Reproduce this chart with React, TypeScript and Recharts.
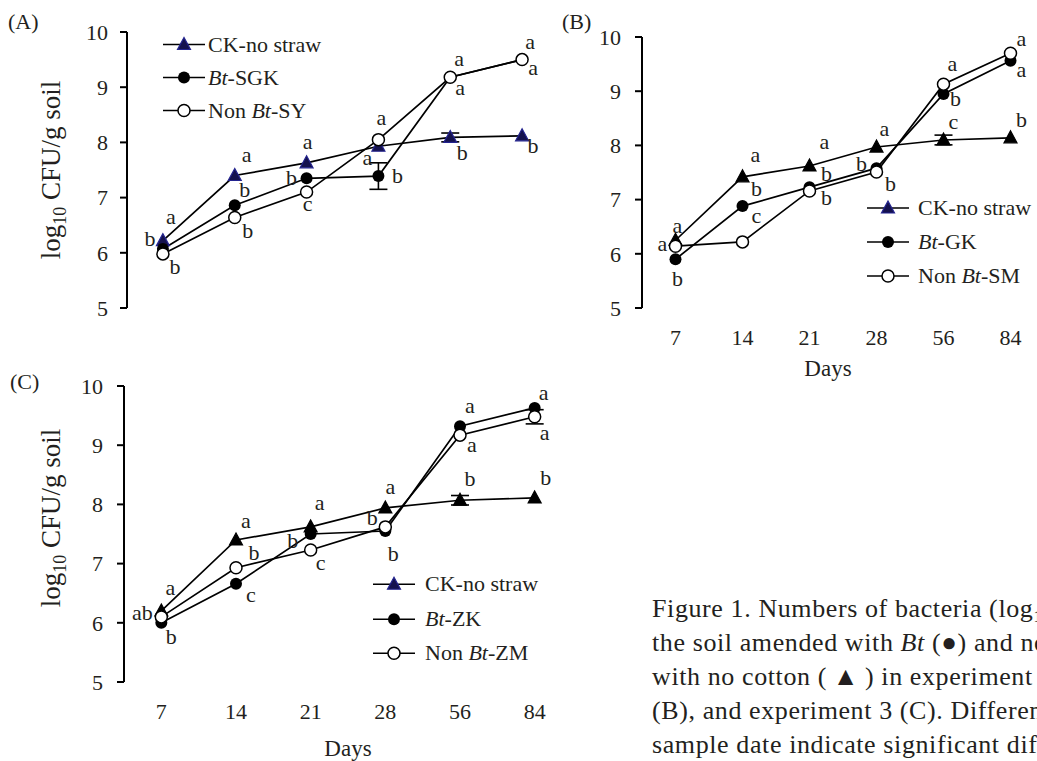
import React from 'react';
import { LineChart, Line, XAxis, YAxis, ErrorBar, LabelList, Legend } from 'recharts';

const FONT = "'Liberation Serif', 'Times New Roman', serif";
const INK = '#231f20';

// sampling days, shared by all three experiments
const days = ['7', '14', '21', '28', '56', '84'];
const yTicks = [5, 6, 7, 8, 9, 10];

// experiment 1 (A)
const aNames = ['CK-no straw', 'Bt-SGK', 'Non Bt-SY'];
const aCk = [6.22, 7.4, 7.63, 7.93, 8.09, 8.12];
const aBt = [6.07, 6.86, 7.35, 7.39, 9.18, 9.5];
const aNon = [5.98, 6.64, 7.1, 8.05, 9.18, 9.5];
const aCkErr = [null, null, null, null, 0.08, null];
const aBtErr = [null, null, null, 0.24, null, null];
const aNonErr = [null, null, null, null, null, null];
const aCkLetters = ['a', 'a', 'a', 'a', 'b', 'b'];
const aBtLetters = ['b', 'b', 'b', 'b', 'a', 'a'];
const aNonLetters = ['b', 'b', 'c', 'a', 'a', 'a'];

// experiment 2 (B)
const bNames = ['CK-no straw', 'Bt-GK', 'Non Bt-SM'];
const bCk = [6.25, 7.42, 7.62, 7.97, 8.1, 8.14];
const bBt = [5.9, 6.88, 7.23, 7.58, 8.95, 9.56];
const bNon = [6.14, 6.22, 7.16, 7.51, 9.13, 9.7];
const bCkErr = [null, null, null, null, 0.09, null];
const bBtErr = [null, null, null, null, null, null];
const bNonErr = [null, null, null, null, null, null];
const bCkLetters = ['a', 'a', 'a', 'a', 'c', 'b'];
const bBtLetters = ['b', 'b', 'b', 'b', 'b', 'a'];
const bNonLetters = ['a', 'c', 'b', 'b', 'a', 'a'];

// experiment 3 (C)
const cNames = ['CK-no straw', 'Bt-ZK', 'Non Bt-ZM'];
const cCk = [6.2, 7.4, 7.62, 7.94, 8.07, 8.11];
const cBt = [6.0, 6.66, 7.5, 7.55, 9.32, 9.63];
const cNon = [6.1, 6.93, 7.23, 7.62, 9.17, 9.48];
const cCkErr = [null, null, null, null, 0.08, null];
const cBtErr = [null, null, null, null, null, null];
const cNonErr = [null, null, null, null, null, 0.12];
const cCkLetters = ['a', 'a', 'a', 'a', 'b', 'b'];
const cBtLetters = ['b', 'c', 'b', 'b', 'a', 'a'];
const cNonLetters = ['ab', 'b', 'c', 'b', 'a', 'a'];

const makeRows = (ck: number[], bt: number[], non: number[], ckErr: any[], btErr: any[], nonErr: any[], ckL: string[], btL: string[], nonL: string[]) =>
  days.map((day, i) => ({
    pos: i + 0.5,
    day,
    ck: ck[i], bt: bt[i], non: non[i],
    ckErr: ckErr[i], btErr: btErr[i], nonErr: nonErr[i],
    ckL: ckL[i], btL: btL[i], nonL: nonL[i],
  }));

// where each significance letter sits relative to its point (dx, dy)
const aOffsets = {
  ck: [[8, -24], [12, -21], [1, -21], [-11, 11], [12, 15], [11, 10]],
  bt: [[-13, -10], [10, -16], [-15, -1], [19, -1], [10, 10], [11, 8]],
  non: [[12, 13], [13, 13], [1, 11], [3, -22], [9, -19], [8, -18]],
};
const bOffsets = {
  ck: [[2, -15], [13, -22], [15, -24], [8, -19], [10, -18], [11, -18]],
  bt: [[2, 19], [14, -18], [17, -14], [-15, -5], [12, 5], [11, 9]],
  non: [[-13, -3], [14, -26], [17, 7], [14, 12], [9, -21], [11, -15]],
};
const cOffsets = {
  ck: [[9, -23], [10, -19], [9, -24], [5, -21], [10, -22], [11, -20]],
  bt: [[10, 14], [15, 11], [-18, 6], [8, 22], [10, -21], [9, -15]],
  non: [[-19, -4], [18, -15], [10, 13], [-13, -9], [12, 9], [10, 16]],
};

const NAVY = { fill: '#15124e', stroke: '#24248f' };
const BLACK = { fill: '#000', stroke: '#000' };

const triPoints = (x: number, y: number) => `${x},${y - 7} ${x - 6.5},${y + 5} ${x + 6.5},${y + 5}`;

const marker = (key: string, cx: number, cy: number, tri: any) => {
  if (key === 'ck') return <polygon points={triPoints(cx, cy)} fill={tri.fill} stroke={tri.stroke} strokeWidth={1.2} />;
  if (key === 'bt') return <circle cx={cx} cy={cy} r={6} fill="#000" />;
  return <circle cx={cx} cy={cy} r={6} fill="#fff" stroke="#000" strokeWidth={1.5} />;
};

const dotFor = (key: string, tri: any) => (p: any) => (
  <g key={`${key}-${p.index}`}>{p.cx == null ? null : marker(key, p.cx, p.cy, tri)}</g>
);

const letterFor = (offs: number[][]) => (p: any) => {
  const vb = p.viewBox || {};
  const x = vb.x ?? p.x;
  const y = vb.y ?? p.y;
  const o = offs[p.index] || [0, 0];
  return (
    <text key={`l-${p.index}`} x={x + o[0]} y={y + o[1]} textAnchor="middle" dominantBaseline="central"
      fontFamily={FONT} fontSize={22} fill={INK}>{p.value}</text>
  );
};

const nameNode = (name: string) => {
  if (!name.includes('Bt')) return name;
  const [pre, post] = name.split('Bt');
  return <>{pre}<i>Bt</i>{post}</>;
};

const ORDER = ['ck', 'bt', 'non'];

const makeLegend = (lg: any) => (props: any) => {
  const items = [...(props.payload || [])].sort((a: any, b: any) => ORDER.indexOf(a.dataKey) - ORDER.indexOf(b.dataKey));
  return (
    <div style={{ fontFamily: FONT, fontSize: 22, color: INK }}>
      {items.map((it: any) => (
        <div key={it.dataKey} style={{ display: 'flex', alignItems: 'center', height: lg.rowH }}>
          <svg width={lg.iconW} height={lg.rowH} style={{ display: 'block', flex: 'none' }}>
            <line x1={0} x2={42} y1={lg.rowH / 2} y2={lg.rowH / 2} stroke="#000" strokeWidth={1.7} />
            {marker(it.dataKey, 21, lg.rowH / 2, lg.tri)}
          </svg>
          <span style={{ whiteSpace: 'nowrap', lineHeight: 1 }}>{nameNode(it.value)}</span>
        </div>
      ))}
    </div>
  );
};

const yTitle = (tx: number, dy: number) => (p: any) => {
  const vb = p.viewBox;
  const x = vb.x + tx;
  const y = vb.y + vb.height / 2 + dy;
  return (
    <text x={x} y={y} transform={`rotate(-90 ${x} ${y})`} textAnchor="middle" fontFamily={FONT} fontSize={27} fill={INK}>
      log<tspan fontSize={18} dy={6}>10</tspan><tspan dy={-6}> CFU/g soil</tspan>
    </text>
  );
};

const daysTitle = (dx: number, dy: number) => (p: any) => {
  const vb = p.viewBox;
  return (
    <text x={vb.x + vb.width / 2 + dx} y={vb.y + dy} textAnchor="middle" dominantBaseline="central"
      fontFamily={FONT} fontSize={23} fill={INK}>Days</text>
  );
};

const axisStyle = { stroke: '#000', strokeWidth: 2 };
const tickFont = { fill: INK, fontSize: 22, fontFamily: FONT };

function Panel({ cfg }: { cfg: any }) {
  const { left, top, width, height, rows, names, offs, legend, tri, showDays, daysDx, daysDy, title, yTickMargin } = cfg;
  const boundaryTicks = Array.from({ length: days.length + 1 }, (_, i) => i);
  const centerTicks = days.map((_, i) => i + 0.5);
  return (
    <div style={{ position: 'absolute', left, top }}>
      <LineChart width={width} height={height} data={rows} margin={{ top: 20, right: 12, left: 0, bottom: showDays ? 0 : 10 }}>
        <XAxis xAxisId="g" dataKey="pos" type="number" domain={[0, days.length]} ticks={boundaryTicks} interval={0}
          allowDataOverflow height={0} tickSize={7} tickFormatter={() => ''} axisLine={axisStyle} tickLine={axisStyle} />
        {showDays ? (
          <XAxis xAxisId="l" dataKey="pos" type="number" domain={[0, days.length]} ticks={centerTicks} interval={0}
            allowDataOverflow height={90} tickSize={0} tickMargin={21} axisLine={false} tickLine={false}
            tick={tickFont} tickFormatter={(v: number) => days[Math.floor(v)]}
            label={{ content: daysTitle(daysDx, daysDy) }} />
        ) : null}
        <YAxis type="number" domain={[5, 10]} ticks={yTicks} interval={0} allowDataOverflow width={110}
          tickSize={7} tickMargin={yTickMargin} axisLine={axisStyle} tickLine={axisStyle} tick={tickFont}
          label={title ? { content: yTitle(title.x, title.dy) } : undefined} />
        <Legend layout="vertical" align="center" verticalAlign="middle" content={makeLegend(legend)}
          wrapperStyle={{ left: legend.left, top: legend.top, width: 220 }} />
        <Line xAxisId="g" dataKey="ck" name={names[0]} stroke="#000" strokeWidth={1.7} dot={dotFor('ck', tri)}
          activeDot={false} isAnimationActive={false}>
          <ErrorBar dataKey="ckErr" width={9} stroke="#000" strokeWidth={1.6} direction="y" />
          <LabelList dataKey="ckL" content={letterFor(offs.ck)} />
        </Line>
        <Line xAxisId="g" dataKey="bt" name={names[1]} stroke="#000" strokeWidth={1.7} dot={dotFor('bt', tri)}
          activeDot={false} isAnimationActive={false}>
          <ErrorBar dataKey="btErr" width={9} stroke="#000" strokeWidth={1.6} direction="y" />
          <LabelList dataKey="btL" content={letterFor(offs.bt)} />
        </Line>
        <Line xAxisId="g" dataKey="non" name={names[2]} stroke="#000" strokeWidth={1.7} dot={dotFor('non', tri)}
          activeDot={false} isAnimationActive={false}>
          <ErrorBar dataKey="nonErr" width={9} stroke="#000" strokeWidth={1.6} direction="y" />
          <LabelList dataKey="nonL" content={letterFor(offs.non)} />
        </Line>
      </LineChart>
    </div>
  );
}

const panels = [
  {
    key: 'A', left: 17, top: 12, width: 553, height: 306,
    rows: makeRows(aCk, aBt, aNon, aCkErr, aBtErr, aNonErr, aCkLetters, aBtLetters, aNonLetters),
    names: aNames, offs: aOffsets, tri: NAVY,
    legend: { left: 146, top: 16, rowH: 33, iconW: 45, tri: NAVY },
    showDays: false, daysDx: 0, daysDy: 0, title: { x: 43, dy: 0 }, yTickMargin: 12,
  },
  {
    key: 'B', left: 532, top: 17, width: 524, height: 381,
    rows: makeRows(bCk, bBt, bNon, bCkErr, bBtErr, bNonErr, bCkLetters, bBtLetters, bNonLetters),
    names: bNames, offs: bOffsets, tri: BLACK,
    legend: { left: 335, top: 174, rowH: 34, iconW: 51, tri: NAVY },
    showDays: true, daysDx: -15, daysDy: 60, title: null, yTickMargin: 14,
  },
  {
    key: 'C', left: 14, top: 366, width: 570, height: 406,
    rows: makeRows(cCk, cBt, cNon, cCkErr, cBtErr, cNonErr, cCkLetters, cBtLetters, cNonLetters),
    names: cNames, offs: cOffsets, tri: BLACK,
    legend: { left: 359, top: 201, rowH: 34.5, iconW: 52, tri: NAVY },
    showDays: true, daysDx: 0, daysDy: 66, title: { x: 46, dy: -16 }, yTickMargin: 14,
  },
];

export default function App() {
  const cap = { fontFamily: FONT, fontSize: 26, fill: INK, letterSpacing: 0.6 } as any;
  return (
    <div style={{ position: 'absolute', left: 0, top: 0, width: 1037, height: 761, overflow: 'hidden', background: '#fff' }}>
      <svg width={1037} height={761} style={{ position: 'absolute', left: 0, top: 0 }}>
        <text x={8} y={29} fontFamily={FONT} fontSize={22} fill={INK}>(A)</text>
        <text x={562} y={29} fontFamily={FONT} fontSize={22} fill={INK}>(B)</text>
        <text x={10} y={389} fontFamily={FONT} fontSize={22} fill={INK}>(C)</text>
        <text x={652} y={617} {...cap}>
          Figure 1. Numbers of bacteria (log<tspan fontSize={17} dy={5}>10</tspan><tspan dy={-5}> CFU/g soil) in</tspan>
        </text>
        <text x={652} y={651} {...cap}>the soil amended with <tspan fontStyle="italic">Bt</tspan> (●) and non-<tspan fontStyle="italic">Bt</tspan></text>
        <text x={652} y={685} {...cap}>with no cotton ({'\u2009'}▲{'\u2009'}) in experiment 1 (A),</text>
        <text x={652} y={719} {...cap}>(B), and experiment 3 (C). Different letters</text>
        <text x={652} y={753} {...cap}>sample date indicate significant differences</text>
      </svg>
      {panels.map((p) => <Panel key={p.key} cfg={p} />)}
    </div>
  );
}
